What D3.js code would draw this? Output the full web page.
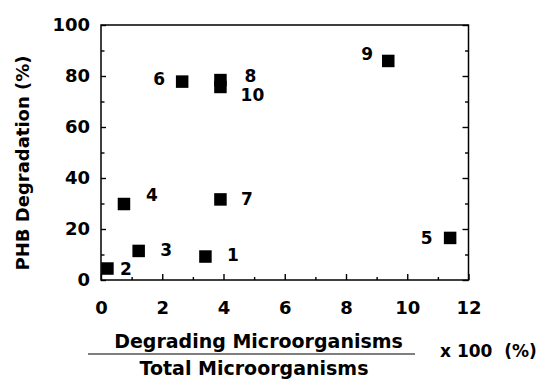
<!DOCTYPE html>
<meta charset="utf-8">
<style>
body { margin: 0; background: #fff; }
text { font-family: "DejaVu Sans", sans-serif; font-weight: bold; fill: #000; }
.axis path { display: none; }
.axis line { stroke: #000; stroke-width: 1.4; }
</style>
<svg width="547" height="379"></svg>
<script src="https://d3js.org/d3.v7.min.js"></script>
<script>

// sample numbers and their values
var sampleIds = ["1", "2", "3", "4", "5", "6", "7", "8", "9", "10"];
var degraderPct = [3.41, 0.21, 1.23, 0.75, 11.4, 2.65, 3.9, 3.9, 9.38, 3.9];
var phbDegradation = [9.2, 4.5, 11.4, 29.8, 16.5, 77.8, 31.6, 78.4, 85.9, 75.7];

var xTicks = [0, 2, 4, 6, 8, 10, 12],
    xMinorTicks = [1, 3, 5, 7, 9, 11],
    yTicks = [0, 20, 40, 60, 80, 100],
    yMinorTicks = [10, 30, 50, 70, 90];

// where each number label sits relative to its square
var labelOffset = {
  "1": [27.5, -1.5], "2": [18.5, 0], "3": [27.5, -1], "4": [28, -9],
  "5": [-23.5, -0.5], "6": [-23, -2.5], "7": [26.5, -1], "8": [30, -4],
  "9": [-21, -7], "10": [32, 7.5]
};

var svg = d3.select("svg"),
    plotLeft = 101, plotRight = 468.5, plotTop = 25, plotBottom = 280;

var x = d3.scaleLinear().domain([0, 12]).range([plotLeft, plotRight]),
    y = d3.scaleLinear().domain([0, 100]).range([plotBottom, plotTop]);

// frame
svg.append("rect")
    .attr("x", plotLeft).attr("y", plotTop)
    .attr("width", plotRight - plotLeft).attr("height", plotBottom - plotTop)
    .attr("fill", "none").attr("stroke", "#000").attr("stroke-width", 1.5);

// left axis
svg.append("g").attr("class", "axis")
    .attr("transform", "translate(" + plotLeft + ",0)")
    .call(d3.axisLeft(y).tickValues(yTicks).tickSize(-5).tickPadding(11))
    .selectAll("text").style("font-size", "18px");
svg.append("g").attr("class", "axis")
    .attr("transform", "translate(" + plotLeft + ",0)")
    .call(d3.axisLeft(y).tickValues(yMinorTicks).tickSize(-3.5).tickFormat(""));

// right axis
svg.append("g").attr("class", "axis")
    .attr("transform", "translate(" + plotRight + ",0)")
    .call(d3.axisRight(y).tickValues(yTicks).tickSize(-6).tickFormat(""));
svg.append("g").attr("class", "axis")
    .attr("transform", "translate(" + plotRight + ",0)")
    .call(d3.axisRight(y).tickValues(yMinorTicks).tickSize(-3.5).tickFormat(""));

// bottom axis
svg.append("g").attr("class", "axis")
    .attr("transform", "translate(0," + plotBottom + ")")
    .call(d3.axisBottom(x).tickValues(xTicks).tickSize(-6).tickPadding(21))
    .selectAll("text").style("font-size", "18px");
svg.append("g").attr("class", "axis")
    .attr("transform", "translate(0," + plotBottom + ")")
    .call(d3.axisBottom(x).tickValues(xMinorTicks).tickSize(-3).tickFormat(""));

var pts = sampleIds.map(function(id, i) {
  return {id: id, x: degraderPct[i], y: phbDegradation[i]};
});

var size = 12.5;
svg.selectAll(".pt")
    .data(pts)
    .enter().append("rect")
      .attr("class", "pt")
      .attr("x", function(d) { return x(d.x) - size / 2; })
      .attr("y", function(d) { return y(d.y) - size / 2; })
      .attr("width", size).attr("height", size)
      .attr("fill", "#000");

svg.selectAll(".lbl")
    .data(pts)
    .enter().append("text")
      .attr("class", "lbl")
      .attr("x", function(d) { return x(d.x) + labelOffset[d.id][0]; })
      .attr("y", function(d) { return y(d.y) + labelOffset[d.id][1]; })
      .attr("dy", "0.36em")
      .attr("text-anchor", "middle")
      .style("font-size", "17px")
      .text(function(d) { return d.id; });

// y title
svg.append("text")
    .attr("transform", "translate(29,163) rotate(-90)")
    .attr("text-anchor", "middle")
    .style("font-size", "18px")
    .text("PHB Degradation (%)");

// x title as a fraction
svg.append("text")
    .attr("x", 258.5).attr("y", 348)
    .attr("text-anchor", "middle")
    .style("font-size", "19px")
    .text("Degrading Microorganisms");
svg.append("line")
    .attr("x1", 88).attr("x2", 415).attr("y1", 354).attr("y2", 354)
    .attr("stroke", "#000").attr("stroke-width", 1.2);
svg.append("text")
    .attr("x", 254).attr("y", 375)
    .attr("text-anchor", "middle")
    .style("font-size", "19px")
    .text("Total Microorganisms");
svg.append("text")
    .attr("x", 440).attr("y", 357)
    .style("font-size", "17px")
    .style("white-space", "pre")
    .text("x 100  (%)");

</script>
